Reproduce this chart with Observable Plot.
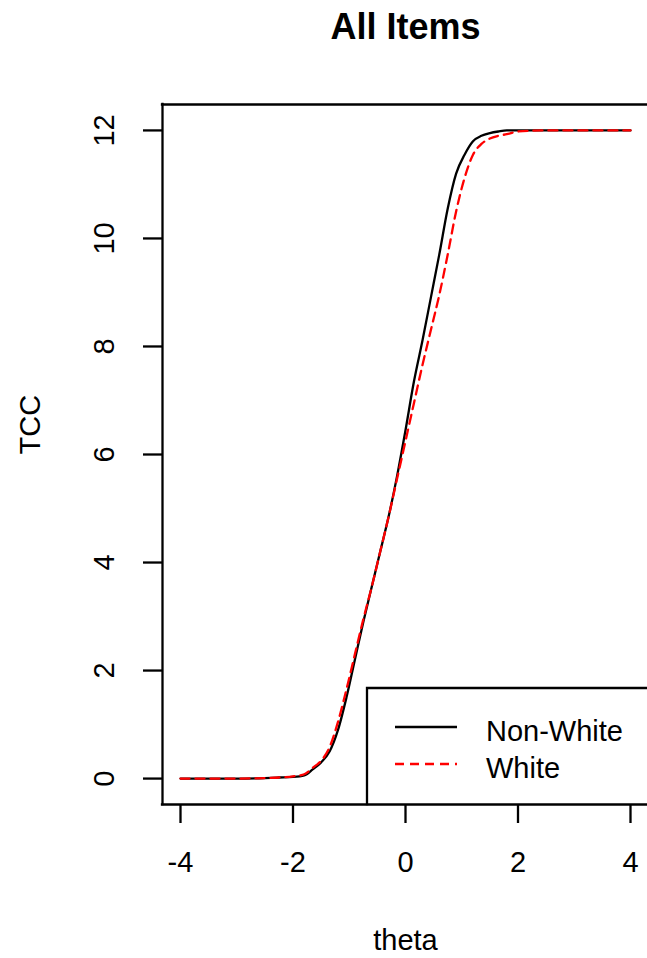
<!DOCTYPE html>
<html>
<head>
<meta charset="utf-8">
<script src="https://cdn.jsdelivr.net/npm/d3@7"></script>
<script src="https://cdn.jsdelivr.net/npm/@observablehq/plot@0.6"></script>
<style>
  html, body { margin: 0; padding: 0; background: #fff; overflow: hidden; }
  #wrap { position: relative; width: 647px; height: 958px; overflow: hidden; }
  #wrap svg { max-width: none !important; width: 650px !important; height: 958px !important; display: block; }
</style>
</head>
<body>
<div id="wrap"></div>
<script>
const theta = [-4, -3.5, -3, -2.5, -2.25, -2, -1.8, -1.65, -1.5, -1.35, -1.2, -1.05, -0.9, -0.75, -0.6, -0.45, -0.3, -0.15, 0, 0.15, 0.3, 0.45, 0.6, 0.75, 0.9, 1.05, 1.2, 1.35, 1.5, 1.65, 1.8, 2, 2.5, 3, 3.5, 4];
const nonWhite = [0, 0, 0, 0.01, 0.02, 0.03, 0.06, 0.17, 0.30, 0.50, 0.90, 1.50, 2.20, 2.90, 3.55, 4.20, 4.85, 5.60, 6.45, 7.35, 8.10, 8.90, 9.70, 10.55, 11.20, 11.55, 11.80, 11.90, 11.95, 11.98, 12.0, 12.0, 12.0, 12.0, 12.0, 12.0];
const white = [0, 0, 0, 0.01, 0.02, 0.04, 0.08, 0.20, 0.33, 0.58, 1.05, 1.65, 2.30, 2.95, 3.55, 4.20, 4.85, 5.55, 6.25, 6.95, 7.65, 8.30, 8.95, 9.70, 10.50, 11.12, 11.55, 11.75, 11.85, 11.90, 11.93, 11.98, 12.0, 12.0, 12.0, 12.0];
const seriesNames = ["Non-White", "White"];
const xTicks = [-4, -2, 0, 2, 4];
const yTicks = [0, 2, 4, 6, 8, 10, 12];
const titleText = "All Items";
const xLabel = "theta";
const yLabel = "TCC";

const xDomain = [-4.32, 4.32];
const yDomain = [-0.48, 12.48];

const rowsNW = theta.map((t, i) => ({theta: t, tcc: nonWhite[i]}));
const rowsW = theta.map((t, i) => ({theta: t, tcc: white[i]}));

const FONT = "'Liberation Sans', Arial, sans-serif";
const FS = 29;
const LW = 2.3;

const chart = Plot.plot({
  width: 650,
  height: 958,
  marginLeft: 162,
  marginRight: 2,
  marginTop: 104,
  marginBottom: 154,
  style: {fontFamily: FONT, background: "#fff", color: "#000", maxWidth: "none"},
  x: {domain: xDomain, axis: null},
  y: {domain: yDomain, axis: null},
  marks: [
    // plot box (right side lies outside the picture)
    Plot.ruleX([xDomain[0]], {stroke: "#000", strokeWidth: LW, strokeLinecap: "square"}),
    Plot.ruleY(yDomain, {stroke: "#000", strokeWidth: LW, strokeLinecap: "square"}),
    // ticks
    Plot.axisX(xTicks, {anchor: "bottom", label: null, tickSize: 19, tickFormat: () => "", stroke: "#000", strokeWidth: LW}),
    Plot.axisY(yTicks, {anchor: "left", label: null, tickSize: 19, tickFormat: () => "", stroke: "#000", strokeWidth: LW}),
    // tick labels
    Plot.text(xTicks, {x: d => d, text: d => String(d), frameAnchor: "bottom", dy: 58, fontSize: FS, lineAnchor: "middle", fill: "#000"}),
    Plot.text(yTicks, {y: d => d, text: d => String(d), frameAnchor: "left", dx: -58, rotate: -90, fontSize: FS, lineAnchor: "middle", textAnchor: "middle", fill: "#000"}),
    // axis titles
    Plot.text([xLabel], {text: d => d, frameAnchor: "bottom", dy: 136, fontSize: FS, lineAnchor: "middle", fill: "#000"}),
    Plot.text([yLabel], {text: d => d, frameAnchor: "left", dx: -132, rotate: -90, fontSize: FS, lineAnchor: "middle", fill: "#000"}),
    Plot.text([titleText], {text: d => d, frameAnchor: "top", dy: -77, fontSize: 36, fontWeight: "bold", lineAnchor: "middle", fill: "#000"}),
    // curves
    Plot.line(rowsNW, {x: "theta", y: "tcc", stroke: "#000", strokeWidth: LW, curve: "monotone-x"}),
    Plot.line(rowsW, {x: "theta", y: "tcc", stroke: "#ff0000", strokeWidth: LW, strokeDasharray: "9,6", curve: "monotone-x"})
  ]
});

document.getElementById("wrap").appendChild(chart);

// legend (bottom-right, R style box; its right edge lies outside the picture)
const svg = d3.select(chart);
const lg = svg.append("g");
lg.append("path")
  .attr("d", "M700,688H367V804")
  .attr("fill", "none").attr("stroke", "#000").attr("stroke-width", LW)
  .attr("stroke-linecap", "square");
const legendStyles = [
  {stroke: "#000", dash: null},
  {stroke: "#ff0000", dash: "9,6"}
];
seriesNames.forEach((name, i) => {
  const ly = 727 + i * 37;
  const ln = lg.append("line")
    .attr("x1", 395).attr("x2", 457).attr("y1", ly).attr("y2", ly)
    .attr("stroke", legendStyles[i].stroke).attr("stroke-width", LW);
  if (legendStyles[i].dash) ln.attr("stroke-dasharray", legendStyles[i].dash);
  lg.append("text")
    .attr("x", 486).attr("y", ly + 14)
    .attr("text-anchor", "start")
    .attr("font-family", FONT).attr("font-size", FS).attr("fill", "#000")
    .text(name);
});
</script>
</body>
</html>
